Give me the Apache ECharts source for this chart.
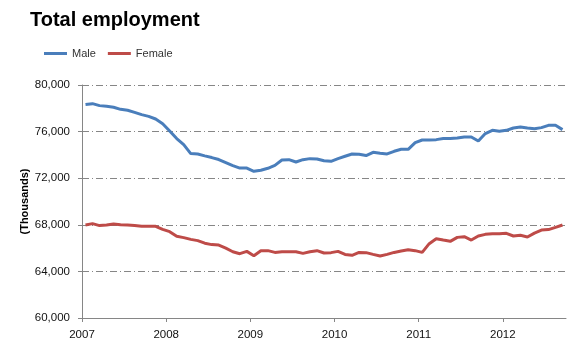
<!DOCTYPE html>
<html>
<head>
<meta charset="utf-8">
<script src="https://cdn.jsdelivr.net/npm/echarts@6/dist/echarts.min.js"></script>
<style>
  html, body { margin: 0; padding: 0; background: #fff; }
  #chart { width: 580px; height: 351px; }
</style>
</head>
<body>
<div id="chart"></div>
<script>
// monthly, Jan 2007 .. Sep 2012 (thousands)
const years = ['2007', '2008', '2009', '2010', '2011', '2012'];
const male = [
  78320, 78400, 78230, 78170, 78085, 77910, 77830, 77655, 77460, 77310, 77080, 76680,
  76050, 75400, 74880, 74110, 74080, 73920, 73770, 73600, 73340, 73080, 72870, 72870,
  72590, 72680, 72850, 73100, 73560, 73590, 73390, 73590, 73680, 73650, 73500, 73450,
  73680, 73880, 74080, 74050, 73940, 74220, 74140, 74080, 74310, 74480, 74480, 75050,
  75280, 75280, 75310, 75400, 75400, 75450, 75540, 75540, 75190, 75830, 76110, 76025,
  76110, 76310, 76400, 76310, 76250, 76340, 76540, 76540, 76170
];
const female = [
  67980, 68100, 67930, 67980, 68065, 68010, 67980, 67930, 67870, 67870, 67870, 67610,
  67410, 67010, 66900, 66750, 66640, 66420, 66300, 66260, 66000, 65690, 65520, 65720,
  65350, 65780, 65780, 65630, 65690, 65690, 65690, 65550, 65690, 65780, 65580, 65610,
  65720, 65460, 65380, 65630, 65610, 65460, 65320, 65460, 65630, 65750, 65860, 65780,
  65630, 66380, 66810, 66690, 66580, 66920, 66980, 66690, 67040, 67180, 67240, 67240,
  67270, 67040, 67100, 66950, 67290, 67550, 67590, 67780, 67980
];

const font = '"Liberation Sans", Arial, sans-serif';
const gridGray = '#868686';

// points sit in the middle of each month slot
const toPoints = arr => arr.map((v, i) => [i + 0.5, v]);
const yearTicks = years.map((y, i) => i * 12);

const chart = echarts.init(document.getElementById('chart'));

chart.setOption({
  animation: false,
  title: {
    text: 'Total employment',
    left: 30,
    top: 10,
    padding: 0,
    textStyle: { fontFamily: font, fontSize: 20, fontWeight: 'bold', color: '#000' }
  },
  legend: {
    left: 44,
    top: 48,
    padding: 0,
    icon: 'rect',
    itemWidth: 23,
    itemHeight: 3,
    itemGap: 12,
    textStyle: { fontFamily: font, fontSize: 11, color: '#333' },
    data: ['Male', 'Female']
  },
  grid: { left: 82, right: 14, top: 85, bottom: 33 },
  xAxis: {
    type: 'value',
    min: 0,
    max: male.length,
    interval: 12,
    axisLine: { lineStyle: { color: gridGray, width: 1 } },
    axisTick: { show: true, length: 4, customValues: yearTicks, lineStyle: { color: gridGray } },
    splitLine: { show: false },
    axisLabel: {
      customValues: yearTicks,
      margin: 11,
      fontFamily: font,
      fontSize: 11.5,
      color: '#111',
      formatter: v => years[Math.round(v / 12)]
    }
  },
  yAxis: {
    type: 'value',
    min: 60000,
    max: 80000,
    interval: 4000,
    name: '(Thousands)',
    nameLocation: 'middle',
    nameGap: 52,
    nameMoveOverlap: false,
    nameTextStyle: { fontFamily: font, fontSize: 11, fontWeight: 'bold', color: '#000' },
    axisLine: { show: true, lineStyle: { color: gridGray, width: 1 } },
    axisTick: { show: true, length: 4, lineStyle: { color: gridGray } },
    splitLine: { lineStyle: { color: gridGray, width: 1, type: [7, 3, 1, 3] } },
    axisLabel: { margin: 12, fontFamily: font, fontSize: 11.5, color: '#111' }
  },
  series: [
    {
      name: 'Male',
      type: 'line',
      symbol: 'none',
      color: '#4A7EBB',
      lineStyle: { width: 3, color: '#4A7EBB' },
      data: toPoints(male)
    },
    {
      name: 'Female',
      type: 'line',
      symbol: 'none',
      color: '#BE4B48',
      lineStyle: { width: 3, color: '#BE4B48' },
      data: toPoints(female)
    }
  ]
});
</script>
</body>
</html>
